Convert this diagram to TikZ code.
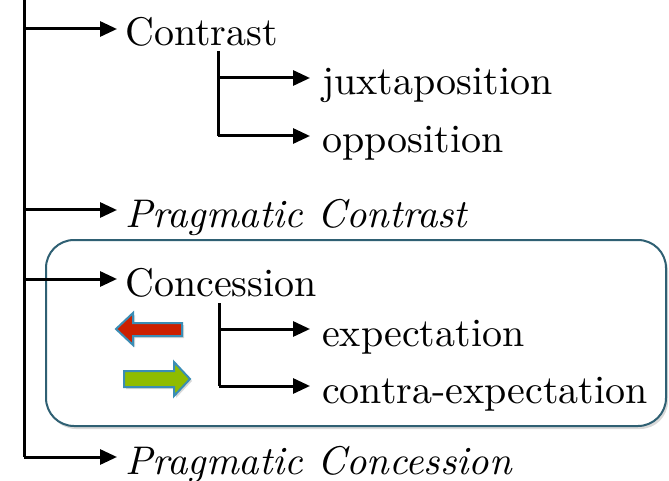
\documentclass[tikz,border=0pt]{standalone}
\usetikzlibrary{arrows.meta,shadows}
\font\lmrbig="[lmroman10-regular]:mapping=tex-text" at 40pt
\font\lmibig="[lmroman10-italic]:mapping=tex-text" at 40pt
\definecolor{boxline}{HTML}{2F6073}
\definecolor{arrred}{HTML}{CC2000}
\definecolor{arrgreen}{HTML}{8FBC00}
\definecolor{arredge}{HTML}{3A8DB5}
\tikzset{
  lbl/.style={anchor=west, inner ysep=0pt, inner xsep=8pt, text height=40pt, text depth=6pt, font=\lmrbig},
  sublbl/.style={lbl, inner xsep=12pt},
  ilbl/.style={lbl, font=\lmibig},
  conn/.style={line width=3pt, -{Triangle[length=17pt,width=15pt]}},
  trunk/.style={line width=3pt},
  groupbox/.style={draw=boxline, line width=2pt, rounded corners=28pt, fill=white,
    drop shadow={shadow xshift=2pt, shadow yshift=-3pt, opacity=0.3}},
  fatarrow/.style={draw=arredge, line width=2pt, line join=miter,
    drop shadow={shadow xshift=2pt, shadow yshift=-2pt, opacity=0.3}}
}
\begin{document}
\begin{tikzpicture}[x=1pt,y=-1pt]
\useasboundingbox (0,0) rectangle (669,481);
\node[groupbox, minimum width=620pt, minimum height=186pt, anchor=north west] (group) at (45,239) {};
% labels
\node[lbl] (contrast) at (117,29) {Contrast};
\node[sublbl] (juxt) at (310,78) {juxtaposition};
\node[sublbl] (oppos) at (310,136) {opposition};
\node[ilbl] (pcontrast) at (117,210) {Pragmatic Contrast};
\node[lbl] (concession) at (117,279) {Concession};
\node[sublbl] (expect) at (310,329) {expectation};
\node[sublbl] (contra) at (310,386) {contra-expectation};
\node[ilbl] (pconcession) at (117,457) {Pragmatic Concession};
% trunk
\coordinate (trunktop) at (24,0);
\coordinate (trunkbot) at (24,457);
\draw[trunk] (trunktop) -- (trunkbot);
\draw[conn] (trunktop |- contrast.west) -- (contrast.west);
\draw[conn] (trunktop |- pcontrast.west) -- (pcontrast.west);
\draw[conn] (trunktop |- concession.west) -- (concession.west);
\draw[conn] (trunkbot) -- (pconcession.west);
% contrast subtree
\coordinate (ctop) at (218,51);
\draw[trunk] (ctop) -- (ctop |- oppos.west);
\draw[conn] (ctop |- juxt.west) -- (juxt.west);
\draw[conn] (ctop |- oppos.west) -- (oppos.west);
% concession subtree
\coordinate (ktop) at (219,303);
\draw[trunk] (ktop) -- (ktop |- contra.west);
\draw[conn] (ktop |- expect.west) -- (expect.west);
\draw[conn] (ktop |- contra.west) -- (contra.west);
% coloured block arrows
\draw[fatarrow, fill=arrred] (116,329) -- (133,313) -- (133,323) -- (182,323) -- (182,336) -- (133,336) -- (133,345) -- cycle;
\draw[fatarrow, fill=arrgreen] (190,379) -- (174,362) -- (174,371) -- (124,371) -- (124,387) -- (174,387) -- (174,396) -- cycle;
\end{tikzpicture}
\end{document}
